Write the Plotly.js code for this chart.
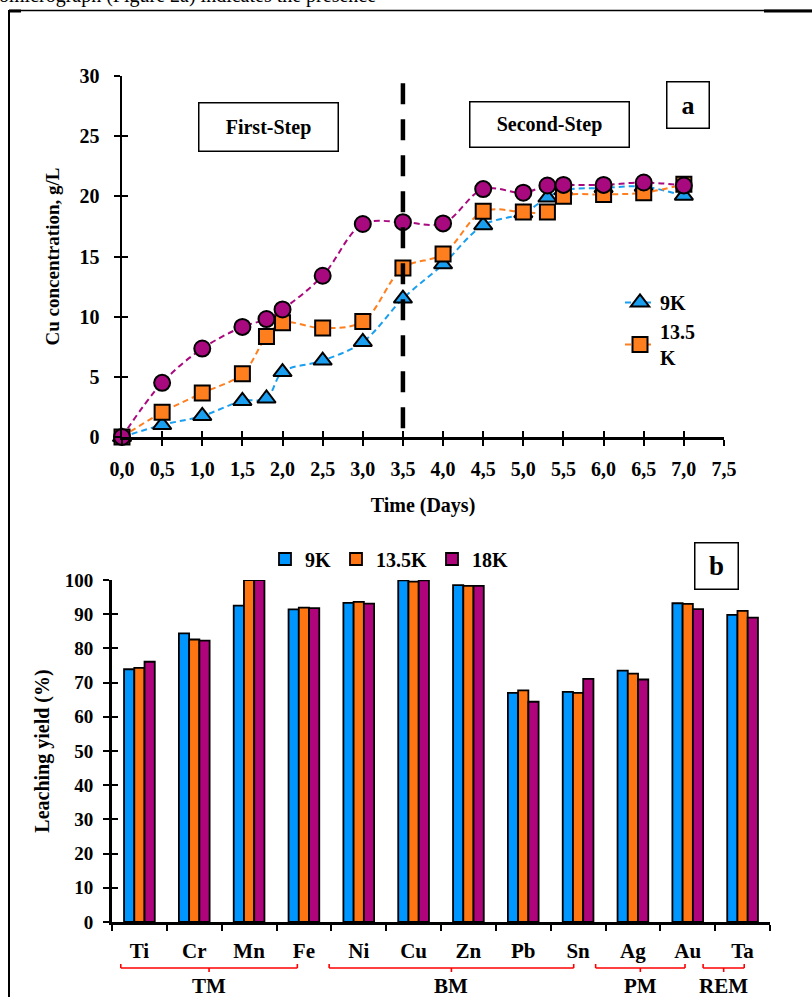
<!DOCTYPE html>
<html>
<head>
<meta charset="utf-8">
<script src="https://cdn.plot.ly/plotly-3.0.1.min.js"></script>
<style>
  html, body { margin: 0; padding: 0; background: #ffffff; }
  #chart { width: 812px; height: 997px; }
</style>
</head>
<body>
<div id="chart"></div>
<script>
// ---- Panel a: Cu concentration vs. time ----
const timeDays = [0, 0.5, 1, 1.5, 1.8, 2, 2.5, 3, 3.5, 4, 4.5, 5, 5.3, 5.5, 6, 6.5, 7];
const cu9K   = [0, 1.0, 1.75, 3.0, 3.2, 5.4, 6.35, 7.9, 11.5, 14.35, 17.6, 18.6, 19.9, 20.5, 20.7, 20.8, 20.05];
const cu135K = [0, 2.05, 3.65, 5.25, 8.35, 9.5, 9.05, 9.6, 14.05, 15.2, 18.75, 18.7, 18.7, 20.0, 20.15, 20.3, 21.0];
const cu18K  = [0, 4.5, 7.35, 9.15, 9.8, 10.6, 13.4, 17.7, 17.85, 17.75, 20.6, 20.3, 20.9, 20.95, 20.95, 21.15, 20.9];
const stepSplitDay = 3.5;
const stepLabels = ['First-Step', 'Second-Step'];

// ---- Panel b: leaching yield by metal ----
const metals = ['Ti', 'Cr', 'Mn', 'Fe', 'Ni', 'Cu', 'Zn', 'Pb', 'Sn', 'Ag', 'Au', 'Ta'];
const yield9K   = [73.9, 84.4, 92.5, 91.4, 93.3, 99.9, 98.5, 67.0, 67.3, 73.5, 93.2, 89.8];
const yield135K = [74.3, 82.6, 100, 91.9, 93.6, 99.5, 98.3, 67.7, 67.0, 72.6, 93.0, 91.0];
const yield18K  = [76.1, 82.3, 100, 91.8, 93.1, 99.9, 98.3, 64.4, 71.1, 70.9, 91.5, 89.0];
const metalGroups = ['TM', 'BM', 'PM', 'REM'];

const W = 812, H = 997;
const px = v => v / W;          // horizontal pixel -> paper
const py = v => 1 - v / H;      // vertical pixel (from top) -> paper

const FONT = 'Liberation Serif, Times New Roman, serif';
const bold = size => ({ family: FONT, size: size, color: '#000', weight: 'bold' });
const BLUE = '#1a9ff0', ORANGE = '#ff7f1e', PURPLE = '#a8097e';
const BAR_BLUE = '#0096ff', BAR_ORANGE = '#ff7512', BAR_PURPLE = '#b0047c';

const lineTrace = (y, name, color, symbol, size, show, group) => ({
  type: 'scatter', mode: 'lines+markers', x: timeDays, y: y, name: name,
  xaxis: 'x', yaxis: 'y', showlegend: show, legend: 'legend', legendgroup: group,
  cliponaxis: false,
  line: { color: color, width: 2, dash: '6px,4px', shape: 'spline', smoothing: 1 },
  marker: { symbol: symbol, size: size, color: color, line: { color: '#000', width: 2 } }
});

const barTrace = (y, name, color) => ({
  type: 'bar', x: metals, y: y, name: name, xaxis: 'x2', yaxis: 'y2',
  legend: 'legend2', marker: { color: color, line: { color: '#000', width: 1.8 } }
});

// transparent copies that carry the inner half of the crossing tick marks
const tickCarrier = (x, y, xa, ya) => ({
  type: 'scatter', mode: 'markers', x: x, y: y, xaxis: xa, yaxis: ya,
  marker: { opacity: 0 }, showlegend: false, hoverinfo: 'skip'
});

const data = [
  lineTrace(cu9K, '9K', BLUE, 'triangle-up', 16, true, 'a1'),
  lineTrace(cu135K, '13.5<br>K', ORANGE, 'square', 15, true, 'a2'),
  lineTrace(cu18K, '18K', PURPLE, 'circle', 16, false, 'a3'),
  barTrace(yield9K, '9K', BAR_BLUE),
  barTrace(yield135K, '13.5K', BAR_ORANGE),
  barTrace(yield18K, '18K', BAR_PURPLE),
  tickCarrier(timeDays, cu9K, 'x3', 'y3'),
  tickCarrier(metals, yield9K, 'x2', 'y4')
];

const baseAxis = {
  showgrid: false, zeroline: false, showline: true, linecolor: '#000',
  ticks: 'outside', tickcolor: '#000', tickwidth: 2, ticklen: 6,
  tickfont: bold(20), automargin: false, fixedrange: true
};
const innerTicks = (extra) => Object.assign({
  showgrid: false, zeroline: false, showline: false, showticklabels: false,
  ticks: 'inside', tickcolor: '#000', tickwidth: 2, ticklen: 6, fixedrange: true
}, extra);

const aDomX = [px(122), px(724)], aDomY = [py(437), py(76)];
const bDomX = [px(112), px(770)], bDomY = [py(922), py(580)];

const shapes = [
  // step divider
  { type: 'line', xref: 'x', yref: 'y', x0: stepSplitDay, x1: stepSplitDay, y0: 29.4, y1: 0,
    line: { color: '#000', width: 4.5, dash: '21px,15px' }, layer: 'above' },
  // page frame
  { type: 'line', xref: 'paper', yref: 'paper', x0: px(9), x1: px(9), y0: 0, y1: py(10),
    line: { color: '#000', width: 2 } },
  { type: 'line', xref: 'paper', yref: 'paper', x0: px(9), x1: 1, y0: py(10.5), y1: py(10.5),
    line: { color: '#000', width: 1.5 } },
  { type: 'line', xref: 'paper', yref: 'paper', x0: px(9), x1: px(21), y0: py(11), y1: py(11),
    line: { color: '#000', width: 3 } },
  { type: 'line', xref: 'paper', yref: 'paper', x0: px(764), x1: 1, y0: py(11), y1: py(11),
    line: { color: '#000', width: 3 } }
];

// red braces below the metal labels
const braceSpans = [[-0.34, 2.88], [3.46, 7.92], [8.32, 9.95], [10.28, 11.03]];
const braceLine = { color: '#ff0000', width: 1.6 };
const yLine = py(968), yHook = py(964), yTip = py(972);
braceSpans.forEach(([a, b]) => {
  const m = (a + b) / 2;
  shapes.push({ type: 'line', xref: 'x2', yref: 'paper', x0: a, x1: b, y0: yLine, y1: yLine, line: braceLine });
  shapes.push({ type: 'line', xref: 'x2', yref: 'paper', x0: a, x1: a, y0: yLine, y1: yHook, line: braceLine });
  shapes.push({ type: 'line', xref: 'x2', yref: 'paper', x0: b, x1: b, y0: yLine, y1: yHook, line: braceLine });
  shapes.push({ type: 'line', xref: 'x2', yref: 'paper', x0: m, x1: m, y0: yLine, y1: yTip, line: braceLine });
});

const boxed = (text, xref, yref, x, y, w, h, font) => ({
  text: text, xref: xref, yref: yref, x: x, y: y, xanchor: 'center', yanchor: 'middle',
  showarrow: false, width: w, height: h, bordercolor: '#000', borderwidth: 1.5, borderpad: 0,
  bgcolor: '#fff', font: font
});

const annotations = [
  boxed(stepLabels[0], 'x', 'y', 1.83, 25.8, 138, 47, bold(20)),
  boxed(stepLabels[1], 'x', 'y', 5.32, 26.0, 158, 44, bold(20)),
  boxed('a', 'paper', 'paper', px(687.5), py(105), 41, 45, bold(26)),
  boxed('b', 'paper', 'paper', px(716), py(565.5), 42, 45, bold(27)),
  { text: 'omicrograph (Figure 2a) indicates the presence', xref: 'paper', yref: 'paper',
    x: 0, y: py(9), xanchor: 'left', yanchor: 'bottom', xshift: -3, showarrow: false,
    font: { family: FONT, size: 20, color: '#000' } }
];
const groupCenters = braceSpans.map(([a, b]) => (a + b) / 2);
metalGroups.forEach((g, i) => {
  annotations.push({ text: g, xref: 'x2', yref: 'paper', x: groupCenters[i], y: py(986),
    xanchor: 'center', yanchor: 'middle', showarrow: false, font: bold(21) });
});

const layout = {
  width: W, height: H,
  margin: { l: 0, r: 0, t: 0, b: 0 },
  paper_bgcolor: '#fff', plot_bgcolor: 'rgba(0,0,0,0)',
  font: { family: FONT, color: '#000' },
  separators: ', ',
  bargap: 0.44, bargroupgap: 0,
  xaxis: Object.assign({}, baseAxis, {
    domain: aDomX, anchor: 'y', range: [0, 7.5], tick0: 0, dtick: 0.5, tickformat: '.1f',
    linewidth: 2.5, ticklabelstandoff: 6,
    title: { text: 'Time (Days)', standoff: 20, font: bold(20) }
  }),
  yaxis: Object.assign({}, baseAxis, {
    domain: aDomY, anchor: 'x', range: [0, 30], tick0: 0, dtick: 5,
    linewidth: 2.5, ticklabelstandoff: 10,
    title: { text: 'Cu concentration, g/L', standoff: 15, font: bold(19) }
  }),
  xaxis3: innerTicks({ overlaying: 'x', anchor: 'y', range: [0, 7.5], tick0: 0, dtick: 0.5 }),
  yaxis3: innerTicks({ overlaying: 'y', anchor: 'x', range: [0, 30], tick0: 0, dtick: 5 }),
  xaxis2: Object.assign({}, baseAxis, {
    domain: bDomX, anchor: 'y2', type: 'category', range: [-0.5, 11.5], tickson: 'boundaries',
    linewidth: 3, ticklabelstandoff: 8, tickfont: bold(21)
  }),
  yaxis2: Object.assign({}, baseAxis, {
    domain: bDomY, anchor: 'x2', range: [0, 100], tick0: 0, dtick: 10,
    linewidth: 3, ticklabelstandoff: 6, tickfont: bold(19),
    title: { text: 'Leaching yield (%)', standoff: 10, font: bold(20) }
  }),
  yaxis4: innerTicks({ overlaying: 'y2', anchor: 'x2', range: [0, 100], tick0: 0, dtick: 10 }),
  legend: {
    x: px(620), y: py(283), xanchor: 'left', yanchor: 'top', bgcolor: 'rgba(0,0,0,0)',
    tracegroupgap: 10, traceorder: 'normal', font: bold(20)
  },
  legend2: {
    orientation: 'h', x: px(265), y: py(559), xanchor: 'left', yanchor: 'middle',
    bgcolor: 'rgba(0,0,0,0)', itemwidth: 30, font: bold(20)
  },
  shapes: shapes,
  annotations: annotations,
  showlegend: true
};

Plotly.newPlot('chart', data, layout, { displayModeBar: false, staticPlot: true });
</script>
</body>
</html>
